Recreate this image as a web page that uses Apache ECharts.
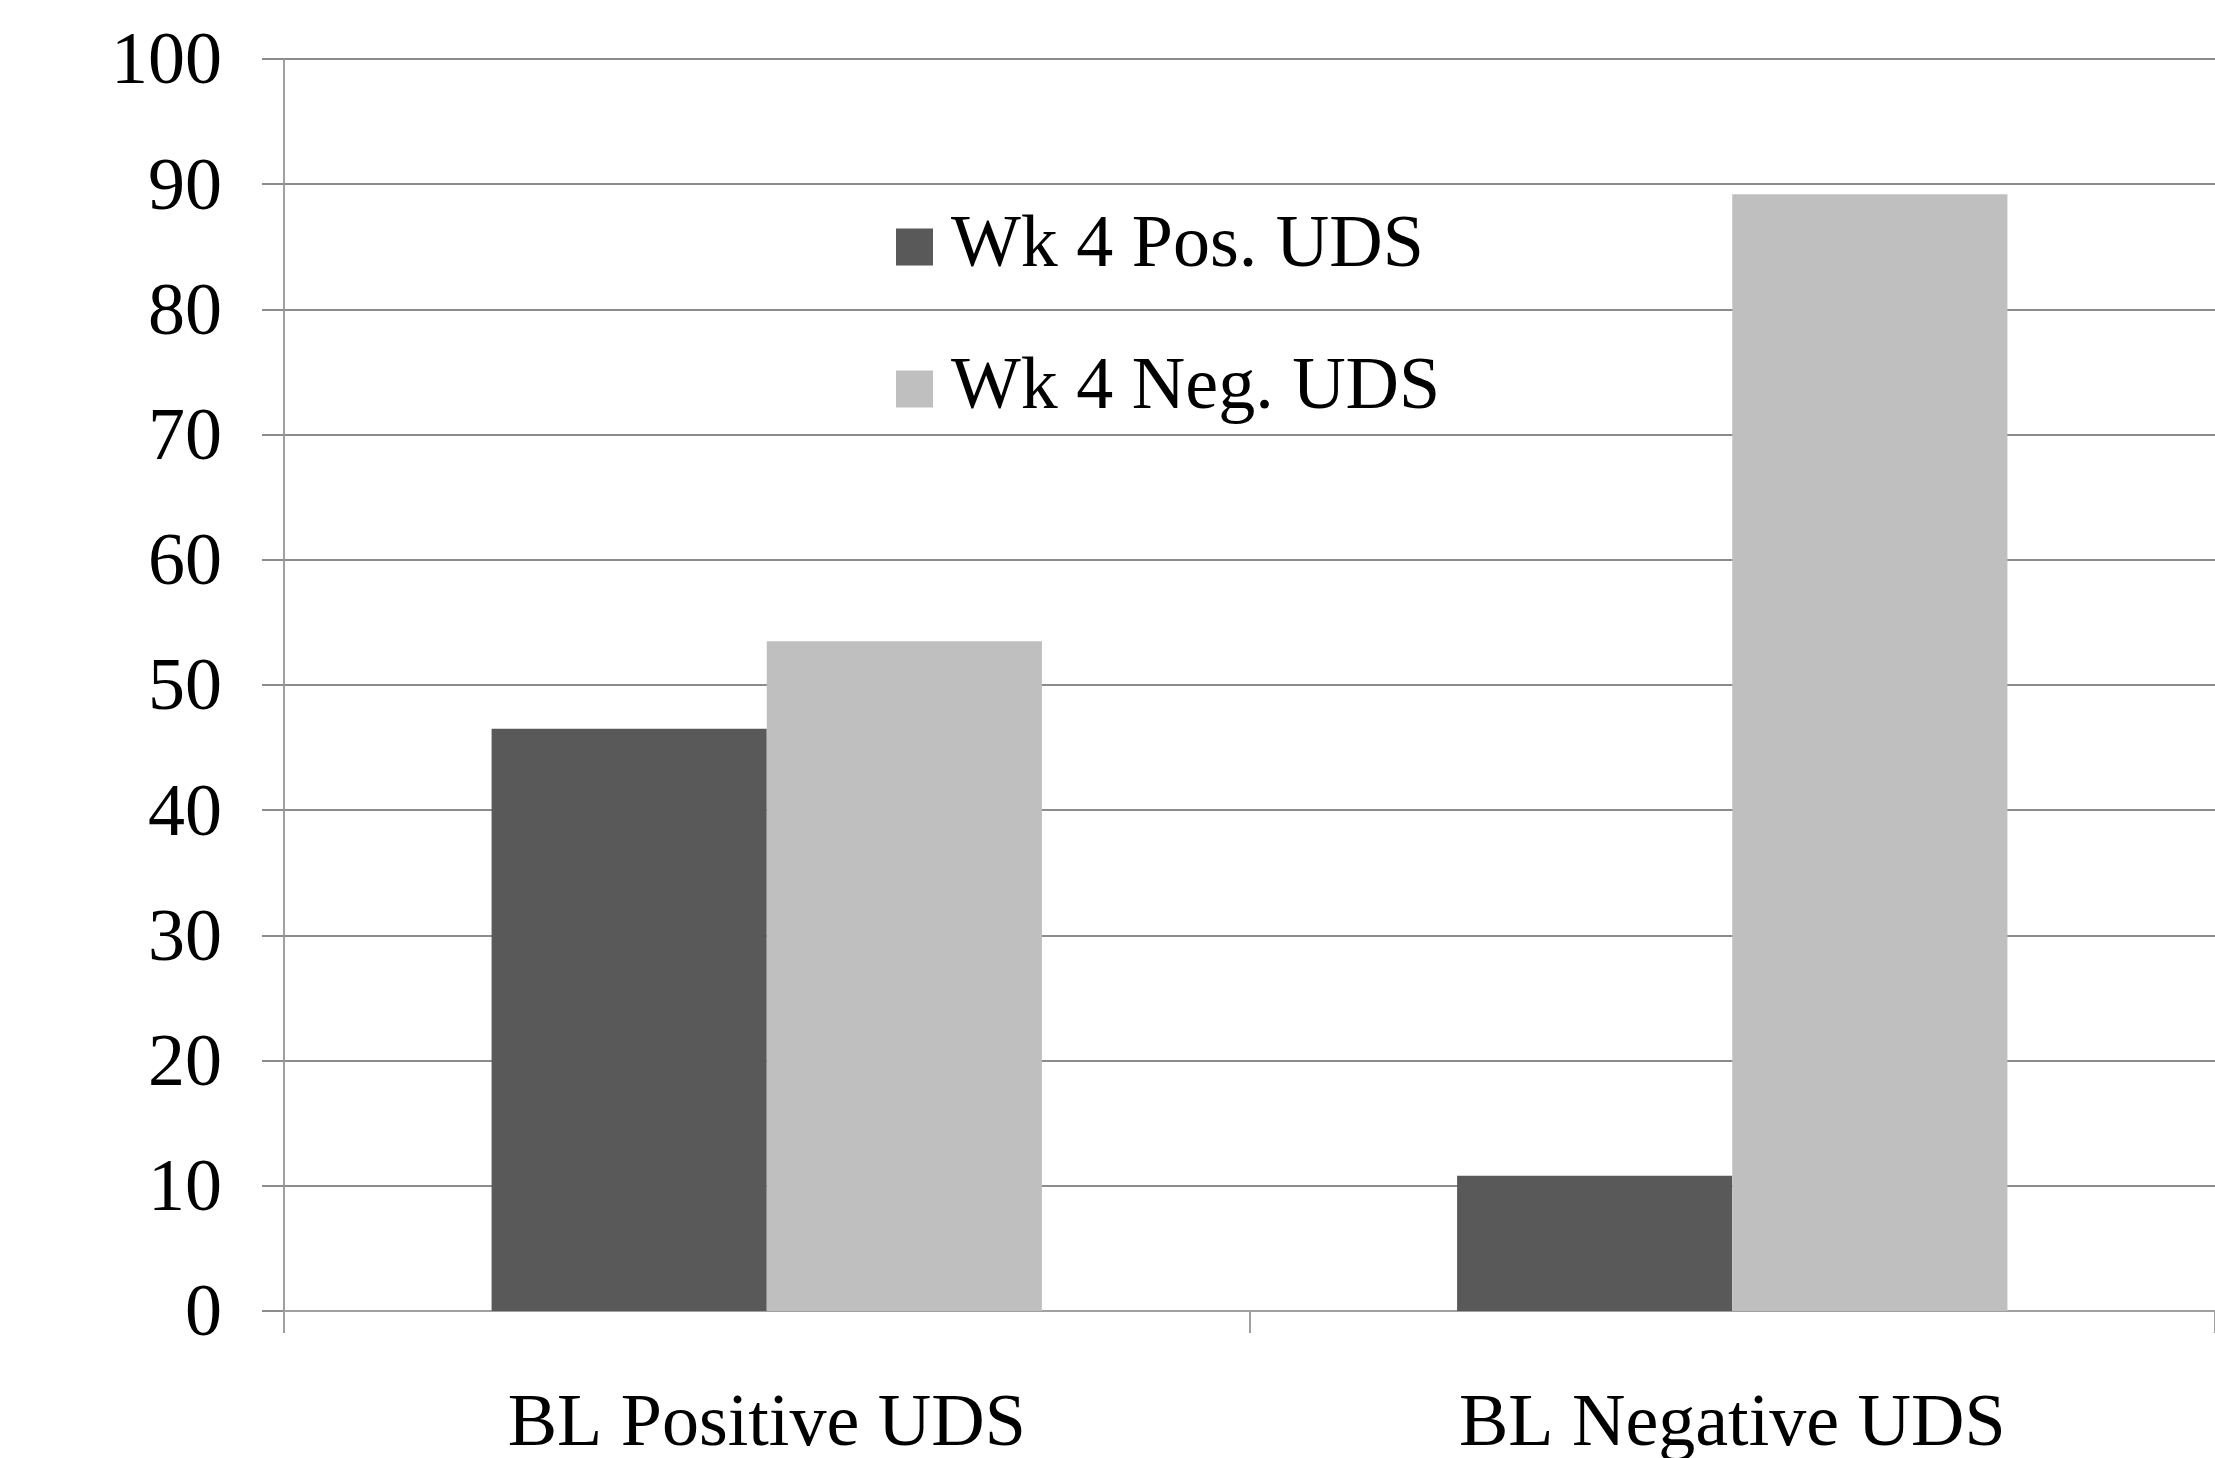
<!DOCTYPE html>
<html>
<head>
<meta charset="utf-8">
<script src="https://cdn.jsdelivr.net/npm/echarts@6/dist/echarts.min.js"></script>
<style>
html,body{margin:0;padding:0;background:#fff;}
#chart{width:2215px;height:1458px;}
</style>
</head>
<body>
<div id="chart"></div>
<script>
const categories = ['BL Positive UDS', 'BL Negative UDS'];
const seriesNames = ['Wk 4 Pos. UDS', 'Wk 4 Neg. UDS'];
const wk4Pos = [46.5, 10.8];
const wk4Neg = [53.5, 89.2];
const yTicks = [0, 10, 20, 30, 40, 50, 60, 70, 80, 90, 100];

const FONT = 'Liberation Serif';
const chart = echarts.init(document.getElementById('chart'), null, {renderer: 'canvas'});
chart.setOption({
  animation: false,
  backgroundColor: '#ffffff',
  textStyle: {fontFamily: FONT},
  grid: {left: 284, right: 0, top: 59, bottom: 147, containLabel: false, outerBoundsMode: 'none'},
  legend: {
    orient: 'vertical',
    left: 896,
    top: 210,
    icon: 'rect',
    itemWidth: 37,
    itemHeight: 37,
    itemGap: 68,
    padding: 0,
    textStyle: {fontFamily: FONT, fontSize: 74, color: '#000', padding: [8, 0, 0, 13]},
    data: seriesNames
  },
  xAxis: {
    type: 'category',
    data: categories,
    axisLine: {show: true, lineStyle: {color: '#a0a0a0', width: 2}},
    axisTick: {show: true, length: 22, lineStyle: {color: '#a0a0a0', width: 2}},
    axisLabel: {fontFamily: FONT, fontSize: 74, color: '#000', margin: 78}
  },
  yAxis: {
    type: 'value',
    min: yTicks[0],
    max: yTicks[yTicks.length - 1],
    interval: 10,
    axisLine: {show: true, lineStyle: {color: '#a0a0a0', width: 2}},
    axisTick: {show: true, length: 22, lineStyle: {color: '#8c8c8c', width: 2}},
    axisLabel: {fontFamily: FONT, fontSize: 74, color: '#000', margin: 62,
      formatter: function (v) { return '{a|' + v + '}'; },
      rich: {a: {fontFamily: FONT, fontSize: 74, color: '#000', padding: [10, 0, 0, 0]}}},
    splitLine: {show: true, lineStyle: {color: '#8c8c8c', width: 2}}
  },
  series: [
    {name: seriesNames[0], type: 'bar', data: wk4Pos, barGap: '0%', barCategoryGap: '43%',
     itemStyle: {color: '#595959'}},
    {name: seriesNames[1], type: 'bar', data: wk4Neg, barGap: '0%', barCategoryGap: '43%',
     itemStyle: {color: '#bfbfbf'}}
  ]
});
</script>
</body>
</html>
